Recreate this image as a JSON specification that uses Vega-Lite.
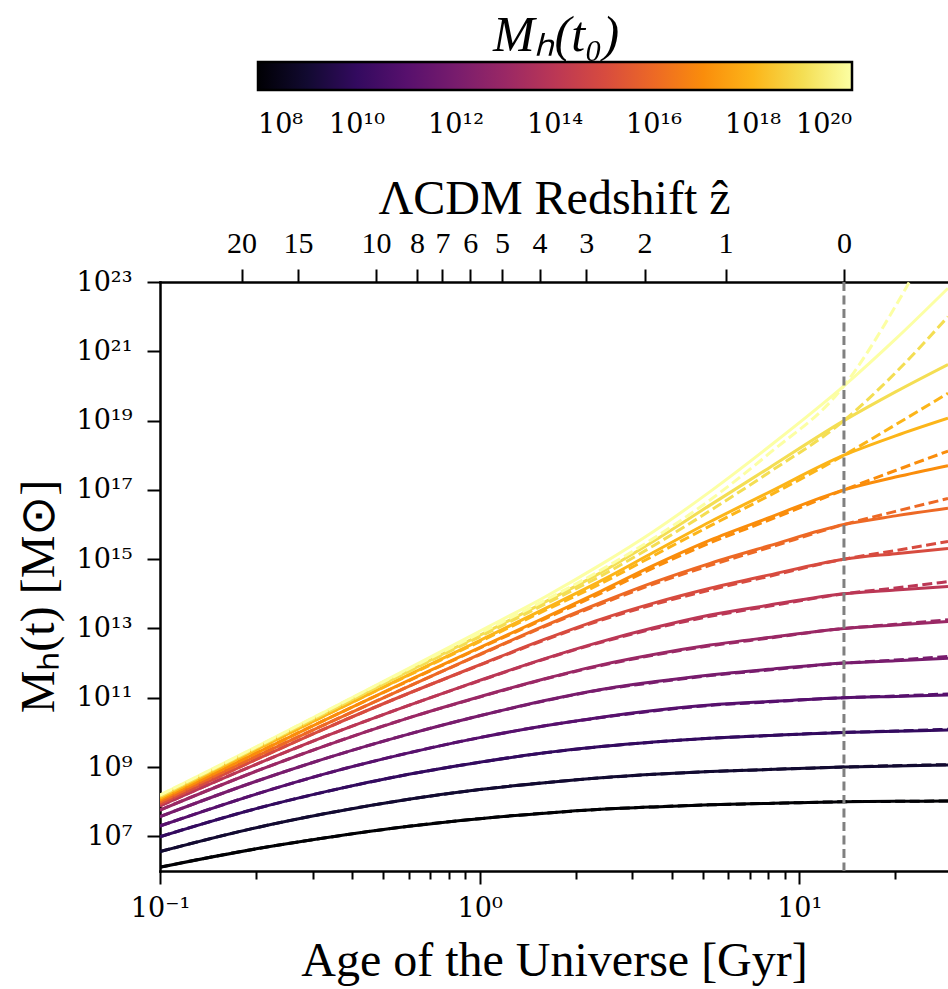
{
"$schema": "https://vega.github.io/schema/vega-lite/v6.json",
"width": 788, "height": 589,
"autosize": {"type": "none"},
"padding": {"left": 160, "top": 282, "right": 0, "bottom": 118},
"background": "white",
"config": {
 "font": "Liberation Serif",
 "view": {"stroke": null},
 "axis": {"grid": false, "domainColor": "black", "domainWidth": 2.5, "domainCap": "square", "tickColor": "black", "tickWidth": 2, "labelColor": "black", "titleColor": "black", "titleFontWeight": "normal", "labelFont": "DejaVu Serif", "titleFont": "Liberation Serif"},
 "legend": {"labelFont": "DejaVu Serif", "titleFont": "Liberation Serif", "labelColor": "black", "titleColor": "black", "titleFontWeight": "normal"}
},
"datasets": {
 "now": [{"t0": 13.8}],
 "curves": [
{"m":8,"t":0.1,"s":6.11,"d":6.11},{"m":8,"t":0.2,"s":6.64,"d":6.64},{"m":8,"t":0.33,"s":6.96,"d":6.96},{"m":8,"t":0.6,"s":7.29,"d":7.29},{"m":8,"t":1,"s":7.51,"d":7.51},{"m":8,"t":1.6,"s":7.67,"d":7.67},{"m":8,"t":2.4,"s":7.78,"d":7.78},{"m":8,"t":3.5,"s":7.85,"d":7.85},{"m":8,"t":5.26,"s":7.91,"d":7.91},{"m":8,"t":8,"s":7.95,"d":7.95},{"m":8,"t":13.8,"s":8.0,"d":8.0},{"m":8,"t":20,"s":8.01,"d":8.01},{"m":8,"t":29.2,"s":8.02,"d":8.02},
{"m":9,"t":0.1,"s":6.56,"d":6.56},{"m":9,"t":0.2,"s":7.25,"d":7.25},{"m":9,"t":0.33,"s":7.66,"d":7.66},{"m":9,"t":0.6,"s":8.07,"d":8.07},{"m":9,"t":1,"s":8.35,"d":8.35},{"m":9,"t":1.6,"s":8.55,"d":8.55},{"m":9,"t":2.4,"s":8.69,"d":8.69},{"m":9,"t":3.5,"s":8.79,"d":8.79},{"m":9,"t":5.26,"s":8.87,"d":8.87},{"m":9,"t":8,"s":8.93,"d":8.93},{"m":9,"t":13.8,"s":9.0,"d":9.0},{"m":9,"t":20,"s":9.03,"d":9.04},{"m":9,"t":29.2,"s":9.06,"d":9.07},
{"m":10,"t":0.1,"s":6.99,"d":6.99},{"m":10,"t":0.2,"s":7.80,"d":7.80},{"m":10,"t":0.33,"s":8.29,"d":8.29},{"m":10,"t":0.6,"s":8.79,"d":8.79},{"m":10,"t":1,"s":9.14,"d":9.14},{"m":10,"t":1.6,"s":9.41,"d":9.41},{"m":10,"t":2.4,"s":9.59,"d":9.59},{"m":10,"t":3.5,"s":9.72,"d":9.72},{"m":10,"t":5.26,"s":9.83,"d":9.83},{"m":10,"t":8,"s":9.91,"d":9.91},{"m":10,"t":13.8,"s":10.0,"d":10.0},{"m":10,"t":20,"s":10.035,"d":10.04},{"m":10,"t":29.2,"s":10.07,"d":10.09},
{"m":11,"t":0.1,"s":7.30,"d":7.30},{"m":11,"t":0.2,"s":8.22,"d":8.22},{"m":11,"t":0.33,"s":8.81,"d":8.81},{"m":11,"t":0.6,"s":9.41,"d":9.41},{"m":11,"t":1,"s":9.85,"d":9.85},{"m":11,"t":1.6,"s":10.19,"d":10.19},{"m":11,"t":2.4,"s":10.44,"d":10.43},{"m":11,"t":3.5,"s":10.63,"d":10.62},{"m":11,"t":5.26,"s":10.79,"d":10.78},{"m":11,"t":8,"s":10.89,"d":10.88},{"m":11,"t":13.8,"s":11.0,"d":11.0},{"m":11,"t":20,"s":11.04,"d":11.05},{"m":11,"t":29.2,"s":11.08,"d":11.11},
{"m":12,"t":0.1,"s":7.57,"d":7.57},{"m":12,"t":0.2,"s":8.59,"d":8.59},{"m":12,"t":0.33,"s":9.25,"d":9.25},{"m":12,"t":0.6,"s":9.95,"d":9.95},{"m":12,"t":1,"s":10.48,"d":10.48},{"m":12,"t":1.6,"s":10.92,"d":10.91},{"m":12,"t":2.4,"s":11.24,"d":11.23},{"m":12,"t":3.5,"s":11.46,"d":11.44},{"m":12,"t":5.26,"s":11.66,"d":11.64},{"m":12,"t":8,"s":11.82,"d":11.80},{"m":12,"t":13.8,"s":12.0,"d":12.0},{"m":12,"t":20,"s":12.07,"d":12.09},{"m":12,"t":29.2,"s":12.14,"d":12.19},
{"m":13,"t":0.1,"s":7.76,"d":7.76},{"m":13,"t":0.2,"s":8.88,"d":8.88},{"m":13,"t":0.33,"s":9.62,"d":9.62},{"m":13,"t":0.6,"s":10.42,"d":10.42},{"m":13,"t":1,"s":11.03,"d":11.02},{"m":13,"t":1.6,"s":11.55,"d":11.54},{"m":13,"t":2.4,"s":11.95,"d":11.93},{"m":13,"t":3.5,"s":12.25,"d":12.23},{"m":13,"t":5.26,"s":12.52,"d":12.50},{"m":13,"t":8,"s":12.74,"d":12.72},{"m":13,"t":13.8,"s":13.0,"d":13.0},{"m":13,"t":20,"s":13.1,"d":13.12},{"m":13,"t":29.2,"s":13.2,"d":13.25},
{"m":14,"t":0.1,"s":7.88,"d":7.88},{"m":14,"t":0.2,"s":9.08,"d":9.08},{"m":14,"t":0.33,"s":9.89,"d":9.89},{"m":14,"t":0.6,"s":10.78,"d":10.78},{"m":14,"t":1,"s":11.5,"d":11.49},{"m":14,"t":1.6,"s":12.13,"d":12.12},{"m":14,"t":2.4,"s":12.62,"d":12.60},{"m":14,"t":3.5,"s":13.02,"d":12.99},{"m":14,"t":5.26,"s":13.39,"d":13.35},{"m":14,"t":8,"s":13.67,"d":13.64},{"m":14,"t":13.8,"s":14.0,"d":14.0},{"m":14,"t":20,"s":14.11,"d":14.17},{"m":14,"t":29.2,"s":14.21,"d":14.35},
{"m":15,"t":0.1,"s":7.93,"d":7.93},{"m":15,"t":0.2,"s":9.22,"d":9.22},{"m":15,"t":0.33,"s":10.12,"d":10.12},{"m":15,"t":0.6,"s":11.13,"d":11.13},{"m":15,"t":1,"s":11.95,"d":11.94},{"m":15,"t":1.6,"s":12.69,"d":12.67},{"m":15,"t":2.4,"s":13.27,"d":13.24},{"m":15,"t":3.5,"s":13.73,"d":13.69},{"m":15,"t":5.26,"s":14.16,"d":14.11},{"m":15,"t":8,"s":14.54,"d":14.50},{"m":15,"t":13.8,"s":15.0,"d":15.0},{"m":15,"t":20,"s":15.16,"d":15.25},{"m":15,"t":29.2,"s":15.31,"d":15.51},
{"m":16,"t":0.1,"s":7.99,"d":7.99},{"m":16,"t":0.2,"s":9.31,"d":9.31},{"m":16,"t":0.33,"s":10.24,"d":10.24},{"m":16,"t":0.6,"s":11.33,"d":11.33},{"m":16,"t":1,"s":12.25,"d":12.24},{"m":16,"t":1.6,"s":13.08,"d":13.06},{"m":16,"t":2.4,"s":13.75,"d":13.71},{"m":16,"t":3.5,"s":14.33,"d":14.28},{"m":16,"t":5.26,"s":14.88,"d":14.82},{"m":16,"t":8,"s":15.38,"d":15.33},{"m":16,"t":13.8,"s":16.0,"d":16.0},{"m":16,"t":20,"s":16.25,"d":16.38},{"m":16,"t":29.2,"s":16.47,"d":16.75},
{"m":17,"t":0.1,"s":8.05,"d":8.05},{"m":17,"t":0.2,"s":9.40,"d":9.40},{"m":17,"t":0.33,"s":10.37,"d":10.37},{"m":17,"t":0.6,"s":11.50,"d":11.49},{"m":17,"t":1,"s":12.45,"d":12.43},{"m":17,"t":1.6,"s":13.31,"d":13.28},{"m":17,"t":2.4,"s":14.08,"d":14.02},{"m":17,"t":3.5,"s":14.82,"d":14.75},{"m":17,"t":5.26,"s":15.55,"d":15.47},{"m":17,"t":8,"s":16.19,"d":16.12},{"m":17,"t":13.8,"s":17.0,"d":17.0},{"m":17,"t":20,"s":17.37,"d":17.56},{"m":17,"t":29.2,"s":17.70,"d":18.12},
{"m":18,"t":0.1,"s":8.10,"d":8.10},{"m":18,"t":0.2,"s":9.50,"d":9.50},{"m":18,"t":0.33,"s":10.50,"d":10.50},{"m":18,"t":0.6,"s":11.66,"d":11.65},{"m":18,"t":1,"s":12.65,"d":12.62},{"m":18,"t":1.6,"s":13.57,"d":13.52},{"m":18,"t":2.4,"s":14.38,"d":14.30},{"m":18,"t":3.5,"s":15.20,"d":15.10},{"m":18,"t":5.26,"s":16.08,"d":15.96},{"m":18,"t":8,"s":16.92,"d":16.82},{"m":18,"t":13.8,"s":18.0,"d":18.0},{"m":18,"t":20,"s":18.56,"d":18.88},{"m":18,"t":29.2,"s":19.07,"d":19.79},
{"m":19,"t":0.1,"s":8.15,"d":8.15},{"m":19,"t":0.2,"s":9.55,"d":9.55},{"m":19,"t":0.33,"s":10.56,"d":10.56},{"m":19,"t":0.6,"s":11.77,"d":11.76},{"m":19,"t":1,"s":12.80,"d":12.76},{"m":19,"t":1.6,"s":13.76,"d":13.70},{"m":19,"t":2.4,"s":14.62,"d":14.52},{"m":19,"t":3.5,"s":15.52,"d":15.39},{"m":19,"t":5.26,"s":16.56,"d":16.40},{"m":19,"t":8,"s":17.62,"d":17.49},{"m":19,"t":13.8,"s":19.0,"d":19.0},{"m":19,"t":20,"s":19.83,"d":20.38},{"m":19,"t":29.2,"s":20.62,"d":22.0},
{"m":20,"t":0.1,"s":8.19,"d":8.19},{"m":20,"t":0.2,"s":9.58,"d":9.58},{"m":20,"t":0.33,"s":10.61,"d":10.61},{"m":20,"t":0.6,"s":11.85,"d":11.83},{"m":20,"t":1,"s":12.92,"d":12.86},{"m":20,"t":1.6,"s":13.91,"d":13.81},{"m":20,"t":2.4,"s":14.85,"d":14.69},{"m":20,"t":3.5,"s":15.80,"d":15.60},{"m":20,"t":5.26,"s":16.95,"d":16.71},{"m":20,"t":8,"s":18.23,"d":18.03},{"m":20,"t":13.8,"s":20.0,"d":20.0},{"m":20,"t":20,"s":21.35,"d":22.3},{"m":20,"t":29.2,"s":22.82,"d":25.1}
 ]
},
"layer": [
 {
  "data": {"name": "curves"},
  "mark": {"type": "line", "strokeWidth": 3, "clip": true, "interpolate": "monotone"},
  "encoding": {
   "x": {"field": "t", "type": "quantitative", "scale": {"type": "log", "domain": [0.1, 29.2]},
    "axis": {"orient": "bottom", "values": [0.1,0.2,0.3,0.4,0.5,0.6,0.7,0.8,0.9,1,2,3,4,5,6,7,8,9,10,20],
     "labelExpr": "datum.value==0.1?'10⁻¹':datum.value==1?'10⁰':datum.value==10?'10¹':''",
     "tickSize": {"condition": {"test": "datum.value==0.1||datum.value==1||datum.value==10", "value": 13}, "value": 8},
     "labelFont": "DejaVu Serif", "labelFontSize": 27, "labelPadding": 11, "labelBaseline": "top", "labelFlush": false, "labelOverlap": false,
     "title": "Age of the Universe [Gyr]", "titleFontSize": 48, "titleY": 104, "titleBaseline": "alphabetic"}},
   "y": {"field": "s", "type": "quantitative", "scale": {"domain": [6, 23], "nice": false, "zero": false},
    "axis": {"values": [7,9,11,13,15,17,19,21,23],
     "labelExpr": "datum.value==7?'10⁷':datum.value==9?'10⁹':datum.value==11?'10¹¹':datum.value==13?'10¹³':datum.value==15?'10¹⁵':datum.value==17?'10¹⁷':datum.value==19?'10¹⁹':datum.value==21?'10²¹':'10²³'",
     "tickSize": 13, "labelFont": "DejaVu Serif", "labelFontSize": 27, "labelPadding": 15, "labelBaseline": "middle", "labelFlush": false, "labelOverlap": false,
     "title": "Mₕ(t) [M⊙]", "titleFontSize": 48, "titleAngle": -90, "titleX": -121, "titleY": 314, "titleAlign": "center", "titleBaseline": "middle"}},
   "color": {"field": "m", "type": "quantitative", "scale": {"scheme": "inferno", "domain": [8, 20]},
    "legend": {"orient": "none", "legendX": 98, "legendY": -271.5, "direction": "horizontal", "gradientLength": 594, "gradientThickness": 28,
     "title": "Mₕ(t₀)", "titleFontSize": 50, "titleFontStyle": "italic", "titleAnchor": "middle", "titlePadding": 1.5,
     "values": [8,10,12,14,16,18,20],
     "labelExpr": "datum.value==8?'10⁸':datum.value==10?'10¹⁰':datum.value==12?'10¹²':datum.value==14?'10¹⁴':datum.value==16?'10¹⁶':datum.value==18?'10¹⁸':'10²⁰'",
     "labelFont": "DejaVu Serif", "labelFontSize": 27, "labelOffset": 22, "labelAlign": "center", "labelOverlap": false,
     "gradientStrokeColor": "black", "gradientStrokeWidth": 2.5, "padding": 0}},
   "detail": {"field": "m", "type": "nominal"}
  }
 },
 {
  "data": {"name": "curves"},
  "mark": {"type": "line", "strokeWidth": 3, "clip": true, "interpolate": "monotone", "strokeDash": [10, 4.5]},
  "encoding": {
   "x": {"field": "t", "type": "quantitative", "scale": {"type": "log", "domain": [0.1, 29.2]}, "axis": null},
   "y": {"field": "d", "type": "quantitative"},
   "color": {"field": "m", "type": "quantitative"},
   "detail": {"field": "m", "type": "nominal"}
  }
 },
 {
  "data": {"name": "now"},
  "mark": {"type": "rule", "color": "#808080", "strokeWidth": 3, "strokeDash": [9, 4.5]},
  "encoding": {
   "x": {"field": "t0", "type": "quantitative", "scale": {"type": "log", "domain": [0.1, 29.2]},
    "axis": {"orient": "top", "values": [0.18,0.27,0.474,0.637,0.765,0.935,1.175,1.54,2.155,3.28,5.88,13.8],
     "labelExpr": "datum.value<0.2?'20':datum.value<0.3?'15':datum.value<0.5?'10':datum.value<0.7?'8':datum.value<0.85?'7':datum.value<1?'6':datum.value<1.3?'5':datum.value<1.8?'4':datum.value<2.5?'3':datum.value<4?'2':datum.value<8?'1':'0'",
     "tickSize": 13, "labelFont": "Liberation Serif", "labelFontSize": 30, "labelPadding": 17, "labelBaseline": "alphabetic", "labelFlush": false, "labelOverlap": false,
     "title": "ΛCDM Redshift ẑ", "titleFontSize": 48, "titleY": -69, "titleBaseline": "alphabetic"}}
  }
 }
],
"resolve": {"axis": {"x": "independent"}}
}
